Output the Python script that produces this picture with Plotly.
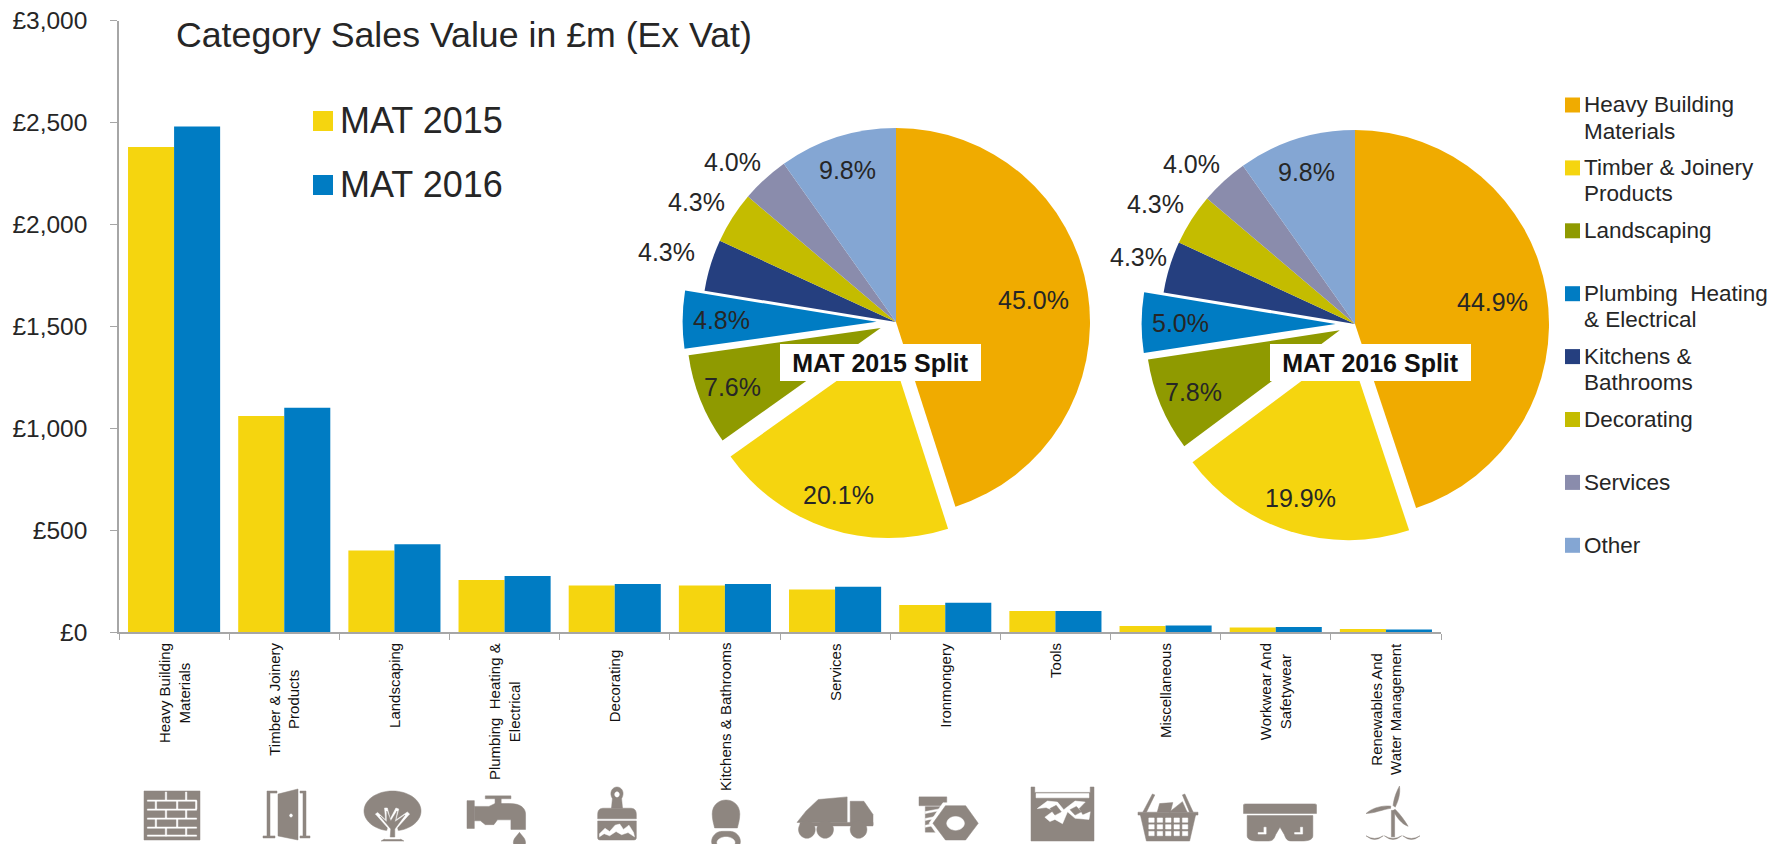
import re, math
import plotly.graph_objects as go

W, H = 1790, 844
FONT = "Liberation Sans"
GRAY = "#A6A6A6"
ICON = "#8E8680"
TEXT = "#262626"

categories = ["Heavy Building<br>Materials", "Timber & Joinery<br>Products", "Landscaping",
              "Plumbing  Heating &<br>Electrical", "Decorating", "Kitchens & Bathrooms",
              "Services", "Ironmongery", "Tools", "Miscellaneous",
              "Workwear And<br>Safetywear", "Renewables And<br>Water Management"]
mat_2015 = [2380, 1060, 400, 255, 228, 228, 208, 133, 103, 30, 22, 15]
mat_2016 = [2480, 1100, 430, 275, 235, 235, 222, 143, 103, 32, 25, 12]

split_labels = ["Heavy Building<br>Materials", "Timber & Joinery<br>Products", "Landscaping",
                "Plumbing  Heating<br>& Electrical", "Kitchens &<br>Bathrooms", "Decorating",
                "Services", "Other"]
split_colors = ["#F0AB00", "#F5D50F", "#8F9A00", "#007CC3", "#253F7F", "#C4BC00", "#8A8CAC", "#84A6D3"]
split_2015 = [45.0, 20.1, 7.6, 4.8, 4.3, 4.3, 4.0, 9.8]
split_2016 = [44.9, 19.9, 7.8, 5.0, 4.3, 4.3, 4.0, 9.8]
split_pull = [0, 0.12, 0.085, 0.10, 0, 0, 0, 0]
label_radius_2015 = [0.72, 0.82, 0.82, 0.80, 1.235, 1.20, 1.18, 0.82]
label_radius_2016 = [0.72, 0.82, 0.82, 0.80, 1.17, 1.20, 1.18, 0.82]
label_turn = [0, 0, 0, 0, 0, -1.5, -3.2, 0]


def px(x):
    return x / W


def py(y):
    return 1 - y / H


fig = go.Figure()
fig.add_bar(x=categories, y=mat_2015, name="MAT 2015", marker_color="#F5D50F", marker_line_width=0)
fig.add_bar(x=categories, y=mat_2016, name="MAT 2016", marker_color="#007CC3", marker_line_width=0)

annotations = []
PIE_R = 194


def note(text, x, y, size, xanchor="left", yanchor="middle", **kw):
    annotations.append(dict(text=text, x=px(x), y=py(y), xref="paper", yref="paper", showarrow=False,
                            xanchor=xanchor, yanchor=yanchor, borderpad=0, borderwidth=0,
                            font=dict(family=FONT, size=size, color=kw.pop("color", TEXT)), **kw))


def pie(values, cx, cy, name, radii):
    half = PIE_R * (1 + max(split_pull))
    fig.add_pie(values=values, labels=[l.replace("<br>", " ") for l in split_labels], name=name,
                sort=False, direction="clockwise", rotation=0, pull=split_pull,
                marker=dict(colors=split_colors, line=dict(width=0)),
                textinfo="none", showlegend=False, hoverinfo="label+percent",
                domain=dict(x=[px(cx - half), px(cx + half)], y=[py(cy + half), py(cy - half)]))
    total = sum(values)
    run = 0
    for v, pull, rho, turn in zip(values, split_pull, radii, label_turn):
        theta = 2 * math.pi * (run + v / 2) / total + math.radians(turn)
        run += v
        rr = PIE_R * (rho + pull)
        note(f"{v:.1f}%", cx + rr * math.sin(theta), cy - rr * math.cos(theta), 25, xanchor="center")


pie(split_2015, 896, 322, "MAT 2015 Split", label_radius_2015)
pie(split_2016, 1355, 324, "MAT 2016 Split", label_radius_2016)

note("Category Sales Value in £m (Ex Vat)", 176, 35, 35.7)
shapes = []


def square(x0, y0, x1, y1, color):
    shapes.append(dict(type="rect", xref="paper", yref="paper", x0=px(x0), x1=px(x1), y0=py(y1), y1=py(y0),
                       fillcolor=color, line_width=0, layer="above"))


for i, (label, color) in enumerate((("MAT 2015", "#F5D50F"), ("MAT 2016", "#007CC3"))):
    yc = 121 + 64 * i
    square(313, yc - 10, 333, yc + 10, color)
    note(label, 340, yc, 36)

for i, (label, color) in enumerate(zip(split_labels, split_colors)):
    yc = 105 + 62.9 * i
    square(1565, yc - 7.5, 1580, yc + 7.5, color)
    for j, line in enumerate(label.split("<br>")):
        note(line, 1584, yc + 26 * j, 22.5)

for box, text in (((780, 344, 981, 381), "<b>MAT 2015 Split</b>"), ((1270, 344, 1471, 381), "<b>MAT 2016 Split</b>")):
    note(text, (box[0] + box[2]) / 2, (box[1] + box[3]) / 2, 25, xanchor="center", bgcolor="white",
         width=box[2] - box[0], height=box[3] - box[1], color="#111111")

for c in categories:
    annotations.append(dict(text=c, x=c, xref="x", y=py(648 if c == "Decorating" else 642), yref="paper",
                            showarrow=False, textangle=-90, xanchor="center", yanchor="top", align="center",
                            borderpad=0, font=dict(family=FONT, size=15, color="#111111")))


# ---------- pictograms, drawn in a 100 x 100 box, y downwards ----------
def circle(cx, cy, r, ry=None):
    ry = ry or r
    k = 0.5523
    return (f"M{cx-r},{cy} C{cx-r},{cy-k*ry} {cx-k*r},{cy-ry} {cx},{cy-ry} "
            f"C{cx+k*r},{cy-ry} {cx+r},{cy-k*ry} {cx+r},{cy} "
            f"C{cx+r},{cy+k*ry} {cx+k*r},{cy+ry} {cx},{cy+ry} "
            f"C{cx-k*r},{cy+ry} {cx-r},{cy+k*ry} {cx-r},{cy} Z")


def rect(x0, y0, x1, y1):
    return f"M{x0},{y0} L{x1},{y0} L{x1},{y1} L{x0},{y1} Z"


def icon(cx, top, w, h, parts):
    sx, sy = w / 100, h / 100
    for color, path in parts:
        def repl(m):
            return f"{px(cx + (float(m.group(1)) - 50) * sx):.5f},{py(top + float(m.group(2)) * sy):.5f}"
        p = re.sub(r"(-?[\d.]+),(-?[\d.]+)", repl, path)
        shapes.append(dict(type="path", path=p, xref="paper", yref="paper", layer="above",
                           fillcolor=color, line=dict(color=color, width=0.5)))


W_ = "white"
brick = [(ICON, rect(0, 2, 100, 100))]
for y in (20, 38, 56, 74, 90):
    brick.append((W_, rect(6, y, 94, y + 2.5)))
for y, xs in ((2, (38, 74)), (20, (20, 58, 92)), (38, (38, 74)), (56, (20, 58)), (74, (38, 74))):
    for x in xs:
        brick.append((W_, rect(x, y + 2, x + 2.5, y + 18)))

door = [(ICON, "M14,4 L34,4 L34,8 L20,8 L20,92 L30,92 L30,96 L6,96 L6,92 L14,92 Z"),
        (ICON, "M36,10 L76,0 L76,100 L36,92 Z"),
        (ICON, "M80,4 L92,4 L92,92 L100,92 L100,96 L80,96 L80,92 L86,92 L86,8 L80,8 Z"),
        (W_, circle(62, 52, 3))]

tree = [(ICON, circle(50, 40, 50, 40)),
        (ICON, "M30,100 L42,92 L44,74 L56,74 L58,92 L70,100 Z"),
        (W_, "M36,96 L42,74 L20,46 L24,43 L38,58 L36,34 L41,34 L46,56 L56,34 L61,36 L56,58 L76,42 L80,46 L58,74 L64,96 Z"),
        (ICON, "M46,92 L47,76 L28,50 L40,62 L40,40 L47,60 L58,40 L54,62 L72,48 L54,76 L54,92 Z")]

tap = [(ICON, rect(0, 18, 12, 76)),
       (ICON, "M12,30 L36,30 L46,24 L70,24 C88,24 96,34 96,46 L96,78 L72,78 L72,58 L50,58 L44,68 L30,68 L22,60 L12,60 Z"),
       (ICON, rect(46, 10, 56, 26)), (ICON, rect(30, 8, 72, 14)),
       (ICON, "M86,84 C90,92 96,96 96,106 C96,116 76,116 76,106 C76,96 82,92 86,84 Z")]

brush = [(ICON, "M38,40 L40,22 C32,10 40,0 50,0 C60,0 68,10 60,22 L62,40 Z"),
         (W_, circle(50, 14, 5)),
         (ICON, "M8,52 C8,42 14,40 22,40 L78,40 C86,40 92,42 92,52 L92,60 L8,60 Z"),
         (ICON, "M8,64 L92,64 L92,96 C92,100 88,100 84,100 L16,100 C12,100 8,100 8,96 Z"),
         (W_, "M12,88 L24,78 L34,84 L46,72 L56,70 L64,80 L76,72 L86,86 L88,94 L74,86 L60,90 L48,84 L34,92 L22,88 L12,94 Z")]

toilet = [(ICON, "M4,25 C4,8 28,0 50,0 C72,0 96,8 96,25 C96,36 90,44 88,50 L12,50 C10,44 4,36 4,25 Z"),
          (ICON, circle(50, 74, 48, 20)),
          (W_, rect(0, 52, 100, 55)),
          (W_, circle(50, 76, 30, 10))]

truck = [(ICON, "M12,34 L28,8 L66,2 L66,60 L0,60 Z"),
         (ICON, "M70,12 L88,12 L100,42 L100,66 L70,66 Z"),
         (ICON, rect(4, 60, 100, 68)),
         (W_, rect(0, 68, 4, 70)),
         (ICON, circle(13, 76, 11, 20)), (ICON, circle(37, 76, 11, 20)), (ICON, circle(81, 76, 11, 20))]

bolt = [(ICON, rect(4, 12, 48, 30)), (ICON, rect(14, 32, 38, 84)),
        (W_, "M14,42 L38,36 L38,40 L14,46 Z"), (W_, "M14,56 L38,50 L38,54 L14,60 Z"),
        (W_, "M14,70 L38,64 L38,68 L14,74 Z"),
        (W_, "M20,66 L42,24 L80,24 L102,66 L80,106 L42,106 Z"),
        (ICON, "M26,66 L46,30 L78,30 L98,66 L78,100 L46,100 Z"),
        (W_, circle(62, 66, 14))]

tools = [(ICON, "M0,0 L6,0 L6,10 L94,10 L94,0 L100,0 L100,100 L0,100 Z"),
         (W_, rect(8, 12, 92, 20)),
         (W_, "M10,40 L26,26 L42,28 L52,42 L70,26 L86,28 L76,40 L82,52 L94,46 L92,60 L70,58 L58,46 L50,68 L38,60 L30,64 L22,56 L36,44 L24,38 Z"),
         (ICON, "M30,40 L40,34 L48,46 L38,52 Z"), (ICON, "M62,42 L72,36 L80,46 L70,52 Z")]

basket = [(ICON, "M32,40 L36,22 L58,20 L54,40 Z"), (ICON, "M52,40 L74,18 L82,40 Z"),
          (ICON, "M8,40 L24,2 L28,4 L14,40 Z"), (ICON, "M92,40 L78,2 L74,4 L86,40 Z"),
          (ICON, rect(0, 40, 100, 46)),
          (ICON, "M4,46 L96,46 L86,100 L14,100 Z")]
for r_, y in enumerate((52, 66, 80)):
    for c_ in range(5):
        x = 18 + c_ * 14
        basket.append((W_, rect(x, y, x + 9, y + 9)))

goggles = [(ICON, "M0,32 C0,30 2,30 4,30 L96,30 C98,30 100,30 100,32 L100,48 L0,48 Z"),
           (ICON, "M5,52 L95,52 L95,90 C95,98 88,100 80,100 L66,100 C60,100 58,96 56,88 L50,74 L44,88 C42,96 40,100 34,100 L20,100 C12,100 5,98 5,90 Z"),
           (W_, "M20,84 L28,84 L28,74 L31,74 L31,87 L20,87 Z"),
           (W_, "M70,84 L78,84 L78,74 L81,74 L81,87 L70,87 Z")]

turbine = [(ICON, "M50,38 C52,20 58,8 62,0 C64,14 60,28 54,40 Z"),
           (ICON, "M46,42 C32,44 14,52 0,52 C10,42 30,36 46,38 Z"),
           (ICON, "M54,44 C64,54 72,66 78,76 C66,72 56,58 50,46 Z"),
           (ICON, rect(47, 46, 53, 96)),
           (W_, circle(50, 41, 3))]
for x0 in (0, 34, 68):
    turbine.append((ICON, f"M{x0},94 Q{x0+16},104 {x0+32},94 Q{x0+16},108 {x0},94 Z"))

icons = [(172, 790, 56, 50, brick), (285, 789, 50, 51, door), (392.5, 791, 57, 50, tree), (497.5, 792, 61, 48, tap),
         (617, 787, 46, 53, brush), (726, 800, 30, 56, toilet), (835, 796, 76, 44, truck), (948, 791, 63, 49, bolt),
         (1062.5, 787, 63, 54, tools), (1168, 793, 60, 48, basket), (1280, 788, 73, 53, goggles), (1393, 786, 54, 53, turbine)]
for item in icons:
    icon(*item)

fig.update_layout(
    width=W, height=H, margin=dict(l=0, r=0, t=0, b=0), autosize=False,
    paper_bgcolor="white", plot_bgcolor="white", showlegend=False,
    barmode="group", bargap=0.164, bargroupgap=0,
    annotations=annotations, shapes=shapes,
    xaxis=dict(domain=[px(119), px(1441)], type="category", tickson="boundaries", ticks="outside", ticklen=6,
               tickcolor=GRAY, tickwidth=1, showticklabels=False, showline=True, linecolor=GRAY, linewidth=1.5,
               showgrid=False, zeroline=False, automargin=False),
    yaxis=dict(domain=[py(632), py(20.5)], range=[0, 3000], dtick=500, tickprefix="£", tickformat=",d",
               ticks="outside", ticklen=7, tickcolor=GRAY, tickwidth=1, showline=True, linecolor=GRAY, linewidth=1.5,
               showgrid=False, zeroline=False, ticklabelstandoff=18, automargin=False,
               tickfont=dict(family=FONT, size=24.5, color=TEXT)),
)

fig.write_html("out.html", config=dict(displayModeBar=False),
               post_script="document.body.style.margin='0';document.body.style.overflow='hidden';")
